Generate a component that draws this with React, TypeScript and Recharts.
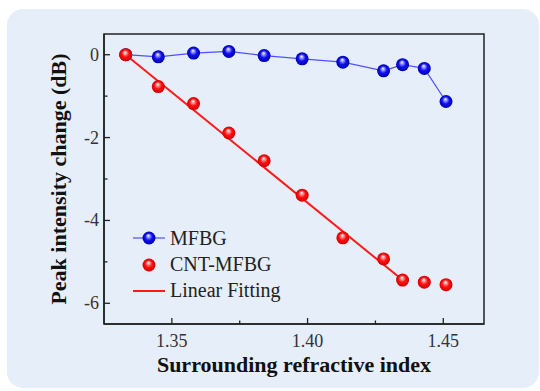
import React from 'react';
import { ComposedChart, Line, Scatter, XAxis, YAxis, ReferenceArea } from 'recharts';

const xValues = [1.333, 1.345, 1.358, 1.371, 1.384, 1.398, 1.413, 1.428, 1.435, 1.443, 1.451];
const mfbgValues = [0, -0.05, 0.04, 0.08, -0.02, -0.1, -0.18, -0.39, -0.24, -0.33, -1.13];
const cntValues = [0, -0.77, -1.18, -1.89, -2.56, -3.39, -4.42, -4.93, -5.44, -5.49, -5.55];
const fitX = [1.333, 1.435];
const fitY = [0, -5.44];
const xTicks = [1.35, 1.375, 1.4, 1.425, 1.45];
const xTickLabels: Record<string, string> = { '1.35': '1.35', '1.4': '1.40', '1.45': '1.45' };
const yTicks = [-6, -5, -4, -3, -2, -1, 0];
const yTickLabels: Record<string, string> = { '-6': '-6', '-4': '-4', '-2': '-2', '0': '0' };

const mfbgData = xValues.map((x, i) => ({ x, y: mfbgValues[i] }));
const cntData = xValues.map((x, i) => ({ x, y: cntValues[i] }));
const fitData = fitX.map((x, i) => ({ x, y: fitY[i] }));

const SERIF = '"Liberation Serif", "Times New Roman", serif';
const AXIS = '#222';

const XTick = (props: any) => {
  const { x, y, payload } = props;
  const axisY = y - 4;
  const label = xTickLabels[String(payload.value)];
  const len = label ? 6 : 3.5;
  return (
    <g>
      <line x1={x} x2={x} y1={axisY} y2={axisY - len} stroke={AXIS} strokeWidth={1.3} />
      {label && (
        <text x={x} y={axisY + 23} textAnchor="middle" fontFamily={SERIF} fontSize={18} fill="#333">
          {label}
        </text>
      )}
    </g>
  );
};

const YTick = (props: any) => {
  const { x, y, payload } = props;
  const axisX = x + 5;
  const label = yTickLabels[String(payload.value)];
  const len = label ? 6 : 3.5;
  return (
    <g>
      <line x1={axisX} x2={axisX + len} y1={y} y2={y} stroke={AXIS} strokeWidth={1.3} />
      {label && (
        <text x={x} y={y + 6} textAnchor="end" fontFamily={SERIF} fontSize={18} fill="#333">
          {label}
        </text>
      )}
    </g>
  );
};

const XLabel = (props: any) => {
  const vb = props.viewBox || {};
  const cx = vb.x + vb.width / 2;
  return (
    <text x={cx} y={vb.y + 48} textAnchor="middle" fontFamily={SERIF} fontWeight="bold" fontSize={22} fill="#111">
      Surrounding refractive index
    </text>
  );
};

const YLabel = (props: any) => {
  const vb = props.viewBox || {};
  const cy = vb.y + vb.height / 2;
  const x = 66;
  return (
    <text x={x} y={cy} transform={`rotate(-90 ${x} ${cy})`} textAnchor="middle" fontFamily={SERIF} fontWeight="bold" fontSize={22} fill="#111">
      Peak intensity change (dB)
    </text>
  );
};

const LegendBox = () => (
  <svg width={180} height={84} style={{ position: 'absolute', left: 125, top: 222, overflow: 'visible' }}>
    <line x1={8} x2={40} y1={16} y2={16} stroke="#5050ff" strokeWidth={1.2} />
    <circle cx={24} cy={16} r={6.5} fill="url(#gBlue)" />
    <text x={45} y={23} fontFamily={SERIF} fontSize={20} fill="#222">MFBG</text>
    <circle cx={24} cy={43} r={6.5} fill="url(#gRed)" />
    <text x={45} y={49} fontFamily={SERIF} fontSize={20} fill="#222">CNT-MFBG</text>
    <line x1={8} x2={40} y1={69} y2={69} stroke="#ff1a1a" strokeWidth={2} />
    <text x={45} y={75} fontFamily={SERIF} fontSize={20} fill="#222">Linear Fitting</text>
  </svg>
);

const Sphere = (fill: string) => (props: any) => {
  const { cx, cy } = props;
  if (cx == null || cy == null) return <g />;
  return <circle cx={cx} cy={cy} r={6.5} fill={fill} />;
};

export default function App() {
  return (
    <div style={{ position: 'absolute', left: 0, top: 0, width: 540, height: 391, background: '#ffffff', overflow: 'hidden' }}>
      <svg width={0} height={0} style={{ position: 'absolute' }}>
        <defs>
          <radialGradient id="gBlue" cx="50%" cy="50%" r="50%" fx="45%" fy="30%">
            <stop offset="0%" stopColor="#ffffff" />
            <stop offset="22%" stopColor="#9a9aff" />
            <stop offset="55%" stopColor="#1010f0" />
            <stop offset="100%" stopColor="#0000b0" />
          </radialGradient>
          <radialGradient id="gRed" cx="50%" cy="50%" r="50%" fx="45%" fy="30%">
            <stop offset="0%" stopColor="#ffffff" />
            <stop offset="22%" stopColor="#ff9a9a" />
            <stop offset="55%" stopColor="#ff1010" />
            <stop offset="100%" stopColor="#d00000" />
          </radialGradient>
        </defs>
      </svg>
      <div style={{ position: 'absolute', left: 7, top: 9, width: 532, height: 379, background: '#e6eef9', borderRadius: 16 }} />
      <div style={{ position: 'absolute', left: 0, top: 0 }}>
        <ComposedChart width={540} height={391} margin={{ top: 34, right: 56, left: 0, bottom: 0 }}>
          <XAxis
            type="number"
            dataKey="x"
            domain={[1.325, 1.465]}
            ticks={xTicks}
            allowDataOverflow
            height={67}
            tickSize={0}
            tickMargin={4}
            tick={<XTick />}
            axisLine={{ stroke: AXIS, strokeWidth: 1.5 }}
            label={<XLabel />}
          />
          <YAxis
            type="number"
            dataKey="y"
            domain={[-6.5, 0.5]}
            ticks={yTicks}
            allowDataOverflow
            width={104}
            tickSize={0}
            tickMargin={5}
            tick={<YTick />}
            axisLine={{ stroke: AXIS, strokeWidth: 1.5 }}
            label={<YLabel />}
          />
          <ReferenceArea x1={1.325} x2={1.465} y1={-6.5} y2={0.5} fill="none" stroke={AXIS} strokeWidth={1.5} ifOverflow="visible" />
          <Line
            data={mfbgData}
            dataKey="y"
            type="linear"
            stroke="#5050ff"
            strokeWidth={1.2}
            dot={Sphere('url(#gBlue)')}
            activeDot={false}
            isAnimationActive={false}
          />
          <Line
            data={fitData}
            dataKey="y"
            type="linear"
            stroke="#ff1a1a"
            strokeWidth={2}
            dot={false}
            activeDot={false}
            isAnimationActive={false}
          />
          <Scatter data={cntData} dataKey="y" shape={Sphere('url(#gRed)')} isAnimationActive={false} />
        </ComposedChart>
      </div>
      <LegendBox />
    </div>
  );
}
